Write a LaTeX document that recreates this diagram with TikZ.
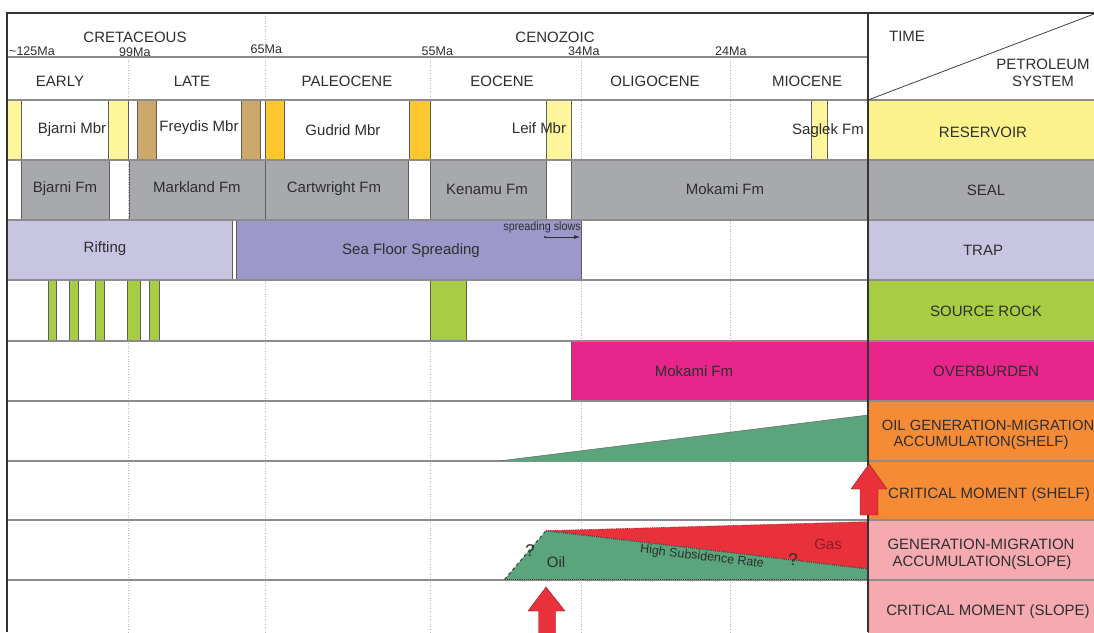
\documentclass[tikz,border=0pt]{standalone}
\usepackage{fontspec}
\setmainfont{Liberation Sans}
\usetikzlibrary{arrows.meta}
\definecolor{txt}{HTML}{2E2E2E}
\definecolor{edge}{HTML}{5E5E5E}
\definecolor{rowline}{HTML}{8C8C8C}
\definecolor{paleY}{HTML}{FFF59A}
\definecolor{resY}{HTML}{FCF28C}
\definecolor{brownC}{HTML}{CDA86B}
\definecolor{orangeY}{HTML}{FDC72F}
\definecolor{greyC}{HTML}{A7A9AC}
\definecolor{lpurp}{HTML}{C8C5E2}
\definecolor{dpurp}{HTML}{9C98CA}
\definecolor{greenC}{HTML}{A8CD45}
\definecolor{pinkC}{HTML}{E8258A}
\definecolor{orangeR}{HTML}{F68B36}
\definecolor{lpink}{HTML}{F5AAB0}
\definecolor{oilG}{HTML}{5AA57B}
\definecolor{redC}{HTML}{E9313B}
\definecolor{gasT}{HTML}{8E1C24}
\newcommand\myfs[1]{\fontsize{#1}{#1}\selectfont}
\tikzset{
  lbl/.style={font=\myfs{15}, text=txt, inner sep=0pt},
  tick/.style={font=\myfs{12.5}, text=txt, inner sep=0pt, anchor=west},
  bar/.style={draw=edge, line width=0.6pt},
  grid/.style={draw=gray!55, dotted, line width=0.6pt},
  rowsep/.style={draw=rowline, line width=1.1pt},
  frame/.style={draw=black!80, line width=1.2pt},
  dotline/.style={draw=black!75, densely dotted, line width=1.1pt}
}
\begin{document}
\begin{tikzpicture}[x=1pt,y=-1pt]
\useasboundingbox (0,0) rectangle (1094,632);
\fill[white] (0,0) rectangle (1094,632);

% ---------- dotted time lines ----------
\draw[grid] (128,57) -- (128,632);
\draw[grid] (265,13) -- (265,632);
\draw[grid] (430,57) -- (430,632);
\draw[grid] (581,57) -- (581,632);
\draw[grid] (730,57) -- (730,632);

% ---------- reservoir row ----------
\filldraw[bar, fill=paleY] (7,100) rectangle (21.5,160);
\filldraw[bar, fill=paleY] (108.5,100) rectangle (128,160);
\filldraw[bar, fill=brownC] (137,100) rectangle (156,160);
\filldraw[bar, fill=brownC] (241,100) rectangle (260,160);
\filldraw[bar, fill=orangeY] (265.5,100) rectangle (284,160);
\filldraw[bar, fill=orangeY] (409.5,100) rectangle (430,160);
\filldraw[bar, fill=paleY] (546,100) rectangle (571.5,160);
\filldraw[bar, fill=paleY] (811.5,100) rectangle (827.5,160);

% ---------- seal row ----------
\filldraw[bar, fill=greyC] (21,160) rectangle (109.5,220);
\filldraw[bar, fill=greyC] (129,160) rectangle (265,220);
\filldraw[bar, fill=greyC] (265,160) rectangle (408.5,220);
\filldraw[bar, fill=greyC] (430,160) rectangle (546,220);
\filldraw[bar, fill=greyC] (571.5,160) rectangle (868,220);

% ---------- trap row ----------
\filldraw[bar, fill=lpurp] (7,220) rectangle (232,280);
\filldraw[bar, fill=dpurp] (236,220) rectangle (581.5,280);

% ---------- source row ----------
\foreach \a/\b in {48/56.5, 69.5/78, 95.5/104, 127.5/140, 149.5/159, 430/466}
  \filldraw[bar, fill=greenC] (\a,280) rectangle (\b,341);

% ---------- overburden row ----------
\filldraw[bar, fill=pinkC] (571.5,341) rectangle (868,401);

% ---------- right column ----------
\filldraw[bar, fill=resY] (868,100) rectangle (1094,160);
\filldraw[bar, fill=greyC] (868,160) rectangle (1094,220);
\filldraw[bar, fill=lpurp] (868,220) rectangle (1094,280);
\filldraw[bar, fill=greenC] (868,280) rectangle (1094,341);
\filldraw[bar, fill=pinkC] (868,341) rectangle (1094,401);
\filldraw[bar, fill=orangeR] (868,401) rectangle (1094,461);
\filldraw[bar, fill=orangeR] (868,461) rectangle (1094,520);
\filldraw[bar, fill=lpink] (868,520) rectangle (1094,580);
\filldraw[bar, fill=lpink] (868,580) rectangle (1094,640);

% ---------- row separators ----------
\draw[rowsep] (7,57) -- (868,57);
\foreach \y in {100,160,220,280,341,401,461,520,580}
  \draw[rowsep] (7,\y) -- (1094,\y);

% ---------- shelf oil wedge ----------
\fill[oilG] (499,461) -- (868,415) -- (868,461) -- cycle;
\draw[black!60, line width=0.5pt] (499,461) -- (868,415);

% ---------- slope generation ----------
\fill[redC] (546,530.7) -- (868,521.7) -- (868,569) -- cycle;
\fill[oilG] (504.7,579.3) -- (546,530.7) -- (868,569) -- (868,579.3) -- cycle;
\draw[dotline, dashed] (504.7,579.3) -- (546,530.7);
\draw[dotline] (546,530.7) -- (868,569);
\draw[dotline] (504.7,579.3) -- (868,579.3);
\draw[draw=redC!70!black, densely dotted, line width=0.8pt] (546,530.7) -- (868,521.7);

% ---------- frame ----------
\draw[frame] (7,632) -- (7,13) -- (1094,13);
\draw[frame] (868,13) -- (868,632);
\draw[black!75, line width=0.8pt] (868,100) -- (1094,14);

% ---------- red arrows ----------
\fill[redC, draw=redC!60!black, line width=0.4pt] (869,464) -- (887,489) -- (878,489) -- (878,515) -- (860,515) -- (860,489) -- (851,489) -- cycle;
\fill[redC, draw=redC!60!black, line width=0.4pt] (546,587) -- (565,611) -- (555.5,611) -- (555.5,640) -- (538.5,640) -- (538.5,611) -- (528,611) -- cycle;

% ---------- header texts ----------
\node[lbl] (cret) at (135,37) {CRETACEOUS};
\node[lbl] (ceno) at (555,37) {CENOZOIC};
\node[tick] (t125) at (9,51) {\textasciitilde125Ma};
\node[tick] (t99) at (119,52) {99Ma};
\node[tick] (t65) at (250.5,49.5) {65Ma};
\node[tick] (t55) at (421.5,51.5) {55Ma};
\node[tick] (t34) at (568,51.5) {34Ma};
\node[tick] (t24) at (715,51.5) {24Ma};
\node[lbl] (early) at (60,81) {EARLY};
\node[lbl] (late) at (192,81) {LATE};
\node[lbl] (paleo) at (347,81) {PALEOCENE};
\node[lbl] (eoc) at (502,81) {EOCENE};
\node[lbl] (olig) at (655,81) {OLIGOCENE};
\node[lbl] (mio) at (807,81) {MIOCENE};
\node[lbl] (time) at (907,36) {TIME};
\node[lbl] (petro) at (1043,64) {PETROLEUM};
\node[lbl] (syst) at (1043,81) {SYSTEM};

% ---------- row texts ----------
\node[lbl] (bjm) at (72,130) {Bjarni Mbr};
\node[lbl] (frm) at (199,128) {Freydis Mbr};
\node[lbl] (gum) at (343,130) {Gudrid Mbr};
\node[lbl] (lem) at (539,128) {Leif Mbr};
\node[lbl] (sag) at (828,131) {Saglek Fm};
\node[lbl] (bjf) at (65,189) {Bjarni Fm};
\node[lbl] (maf) at (197,187) {Markland Fm};
\node[lbl] (caf) at (334,189) {Cartwright Fm};
\node[lbl] (kef) at (487,189) {Kenamu Fm};
\node[lbl] (mof) at (725,189) {Mokami Fm};
\node[lbl] (rift) at (105,249) {Rifting};
\node[lbl] (sfs) at (411,251) {Sea Floor Spreading};
\node[font=\myfs{12}, text=txt, inner sep=0pt, anchor=east, xscale=0.9] (slows) at (581,227) {spreading slows};
\coordinate (sa) at (545,237);
\coordinate (sb) at (580,237);
\fill[txt] (sa) circle (1.2pt);
\draw[txt, line width=0.7pt, -{Latex[length=6pt,width=4pt]}] (sa) -- (sb);
\node[lbl] (mob) at (694,371) {Mokami Fm};

% ---------- right column texts ----------
\node[lbl] (res) at (983,132) {RESERVOIR};
\node[lbl] (seal) at (986,190) {SEAL};
\node[lbl] (trap) at (983,250) {TRAP};
\node[lbl] (src) at (986,311) {SOURCE ROCK};
\node[lbl] (ovb) at (986,371) {OVERBURDEN};
\node[lbl, font=\myfs{14.8}] (ogm) at (988,425) {OIL GENERATION-MIGRATION};
\node[lbl, font=\myfs{14.8}] (acs) at (981,442.5) {ACCUMULATION(SHELF)};
\node[lbl] (cms) at (989,494.5) {CRITICAL MOMENT (SHELF)};
\node[lbl] (gm) at (981,544.5) {GENERATION-MIGRATION};
\node[lbl] (acl) at (982,562.5) {ACCUMULATION(SLOPE)};
\node[lbl] (cml) at (988,611.5) {CRITICAL MOMENT (SLOPE)};

% ---------- slope labels ----------
\node[lbl, font=\myfs{17}] (q1) at (530,551) {?};
\node[lbl] (oil) at (556,562) {Oil};
\node[lbl, font=\myfs{12.5}, rotate=-6.8] (hsr) at (702,557) {High Subsidence Rate};
\node[lbl, font=\myfs{17}] (q2) at (793,560) {?};
\node[lbl, text=gasT] (gas) at (828,544) {Gas};
\end{tikzpicture}
\end{document}
